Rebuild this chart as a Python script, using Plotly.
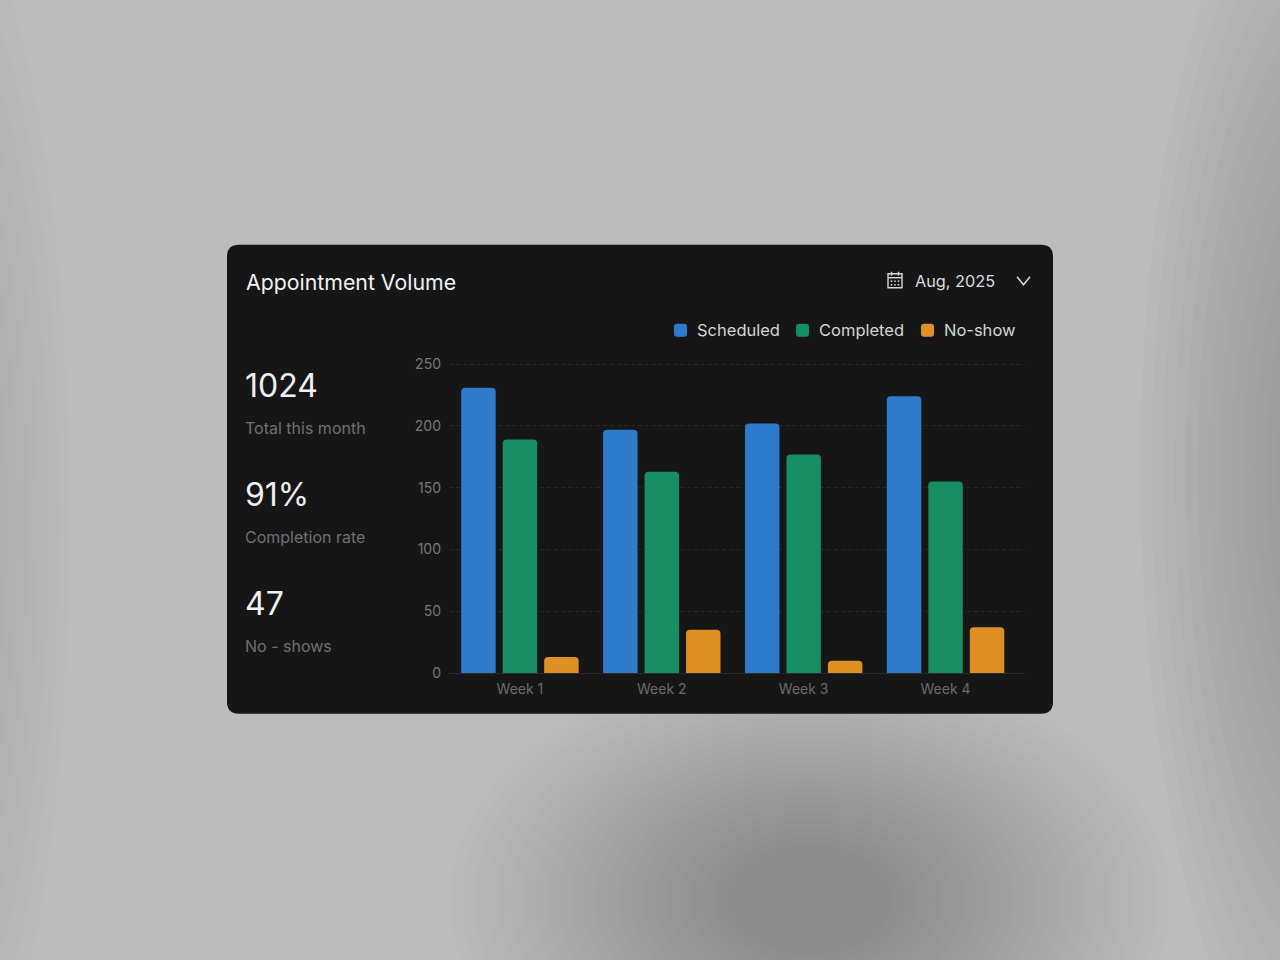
import plotly.graph_objects as go

# data
weeks = ["Week 1", "Week 2", "Week 3", "Week 4"]
scheduled = [231, 197, 202, 224]
completed = [189, 163, 177, 155]
no_show = [13, 35, 10, 37]

series_names = ["Scheduled", "Completed", "No-show"]
series_colors = ["#2e7bcb", "#178d63", "#df9024"]

y_ticks = [0, 50, 100, 150, 200, 250]

stats = [("1024", "Total this month"), ("91%", "Completion rate"), ("47", "No - shows")]
title_text = "Appointment Volume"
period_text = "Aug, 2025"

# page geometry (pixels)
W, H = 1280, 960
L, R, T, B = 449, 255, 363.3, 286.7
PW, PH = W - L - R, H - T - B


def px(x):
    return (x - L) / PW


def py(y):
    return (H - B - y) / PH


def rounded_rect(x0, y0, x1, y1, r):
    # path in paper coordinates, built from pixel corners
    rx, ry = r / PW, r / PH
    a, b, c, d = px(x0), px(x1), py(y0), py(y1)  # c is top, d is bottom
    return (f"M{a + rx},{c} L{b - rx},{c} Q{b},{c} {b},{c - ry} "
            f"L{b},{d + ry} Q{b},{d} {b - rx},{d} L{a + rx},{d} "
            f"Q{a},{d} {a},{d + ry} L{a},{c - ry} Q{a},{c} {a + rx},{c} Z")


fig = go.Figure()
for name, vals, col in zip(series_names, [scheduled, completed, no_show], series_colors):
    fig.add_trace(go.Bar(x=weeks, y=vals, name=name, marker_color=col,
                         marker_line_width=0, showlegend=False))

shapes = []
# soft background shadows: many faint ellipses stacked into a gradient
glows = [
    # cx, cy, rx, ry, steps, alpha per step
    (810, 900, 360, 240, 24, 0.0095),
    (1340, 470, 200, 650, 14, 0.012),
    (-60, 520, 130, 620, 10, 0.009),
]
for cx, cy, rx_, ry_, n, op in glows:
    for k in range(n):
        s = 1 - k / n * 0.8
        shapes.append(dict(type="circle", xref="paper", yref="paper",
                           x0=px(cx - rx_ * s), x1=px(cx + rx_ * s),
                           y0=py(cy + ry_ * s), y1=py(cy - ry_ * s),
                           fillcolor="#000000", opacity=op, line_width=0, layer="below"))

# card
shapes.append(dict(type="path", xref="paper", yref="paper", path=rounded_rect(227, 245, 1053, 714, 12),
                   fillcolor="#161616", line_width=0, layer="below"))

# calendar icon
icon_col = "#d6d6d6"
shapes.append(dict(type="rect", xref="paper", yref="paper", x0=px(888), x1=px(902), y0=py(288), y1=py(274),
                   line=dict(color=icon_col, width=1.4)))
shapes.append(dict(type="line", xref="paper", yref="paper", x0=px(888), x1=px(902), y0=py(278), y1=py(278),
                   line=dict(color=icon_col, width=1.4)))
for xx in (891.5, 898.5):
    shapes.append(dict(type="line", xref="paper", yref="paper", x0=px(xx), x1=px(xx), y0=py(276), y1=py(272),
                       line=dict(color=icon_col, width=1.4)))
for xx in (891.5, 895, 898.5):
    for yy in (281.5, 285):
        shapes.append(dict(type="rect", xref="paper", yref="paper", x0=px(xx - 0.8), x1=px(xx + 0.8),
                           y0=py(yy + 0.8), y1=py(yy - 0.8), fillcolor=icon_col, line_width=0))
# chevron
shapes.append(dict(type="path", xref="paper", yref="paper",
                   path=f"M{px(1017)},{py(277)} L{px(1023.5)},{py(285)} L{px(1030)},{py(277)}",
                   line=dict(color=icon_col, width=1.5)))

annotations = [
    dict(text=title_text, x=px(244), y=py(282), font=dict(size=21.3, color="#f2f2f2")),
    dict(text=period_text, x=px(913), y=py(281), font=dict(size=16.3, color="#dcdcdc")),
]
for i, (big, small) in enumerate(stats):
    y0 = 386 + i * 109
    annotations.append(dict(text=big, x=px(243), y=py(y0), font=dict(size=32, color="#f0f0f0")))
    annotations.append(dict(text=small, x=px(243), y=py(y0 + 42), font=dict(size=16, color="#707070")))

# legend: rounded swatch + label per series
legend_x = [674, 796, 921]
for name, col, lx in zip(series_names, series_colors, legend_x):
    shapes.append(dict(type="path", xref="paper", yref="paper", path=rounded_rect(lx, 324, lx + 13, 337, 3),
                       fillcolor=col, line_width=0))
    annotations.append(dict(text=name, x=px(lx + 21), y=py(330.5), font=dict(size=16.5, color="#d4d4d4")))

for a in annotations:
    a.update(xref="paper", yref="paper", xanchor="left", yanchor="middle", showarrow=False)

fig.update_layout(
    width=W, height=H,
    margin=dict(l=L, r=R, t=T, b=B, pad=0),
    paper_bgcolor="#bdbcbc",
    plot_bgcolor="rgba(0,0,0,0)",
    font=dict(family="Inter, Noto Sans, sans-serif"),
    barmode="group",
    bargap=0.123,
    bargroupgap=0.169,
    barcornerradius=4,
    shapes=shapes,
    annotations=annotations,
    showlegend=False,
    xaxis=dict(range=[-0.5, 3.56], showgrid=False, zeroline=False, showline=False,
               ticks="", ticklabelstandoff=6, tickfont=dict(size=14, color="#6a6a6a"),
               fixedrange=True),
    yaxis=dict(range=[0, 251], tickvals=y_ticks, showgrid=True, gridcolor="#282828",
               griddash="4px,3px", gridwidth=1, zeroline=True, zerolinecolor="#2c2c2c",
               zerolinewidth=1, showline=False, ticks="", ticklabelstandoff=7,
               tickfont=dict(size=14, color="#777777"), fixedrange=True),
)

fig.write_html("out.html", config={"displayModeBar": False},
               post_script="document.body.style.margin='0';document.body.style.overflow='hidden';")
